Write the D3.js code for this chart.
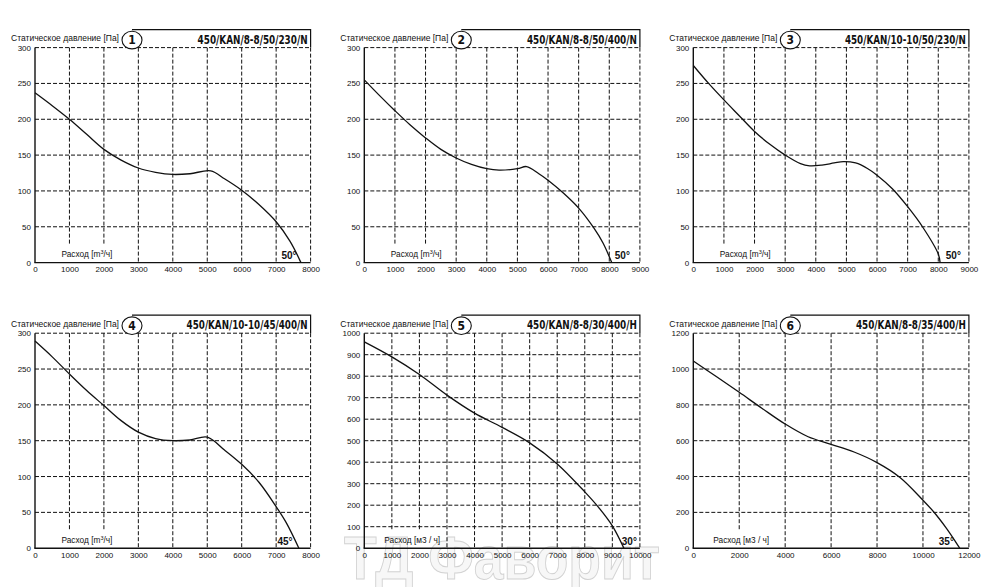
<!DOCTYPE html>
<html>
<head>
<meta charset="utf-8">
<script src="https://cdn.jsdelivr.net/npm/d3@7"></script>
<style>
  html,body{margin:0;padding:0;background:#fff;}
  svg{display:block;}
  text{font-family:'Liberation Sans',Arial,sans-serif;}
</style>
</head>
<body>
<svg id="chart" width="1001" height="587"></svg>
<script>
// ---------- data ----------
const panelNumbers = ['1','2','3','4','5','6'];
const titles = ['450/KAN/8-8/50/230/N','450/KAN/8-8/50/400/N','450/KAN/10-10/50/230/N',
                '450/KAN/10-10/45/400/N','450/KAN/8-8/30/400/H','450/KAN/8-8/35/400/H'];
const angleLabels = ['50°','50°','50°','45°','30°','35°'];
const yAxisLabel = 'Статическое давление [Па]';
const flowLabelsSup = [true,true,true,true,false,false];
const xMax = [8000,9000,9000,8000,10000,12000];
const yMax = [300,300,300,300,1000,1200];
const xStep = [1000,1000,1000,1000,1000,2000];
const yStep = [50,50,50,50,100,200];

const curve1 = [[0,237],[500,219],[1000,200],[1500,179],[2000,158],[2500,143],[3000,132],[3500,126],[4000,123],[4500,124],[5100,128],[5500,117],[6000,101],[6500,81],[7000,57],[7400,30],[7720,0]];
const curve2 = [[0,255],[500,233],[1000,212],[1500,192],[2000,174],[2500,158],[3000,146],[3500,137],[4000,131],[4400,129],[5000,131],[5300,134],[5700,124],[6000,115],[6500,97],[7000,76],[7500,48],[7800,27],[8080,0]];
const curve3 = [[0,275],[500,250],[1000,227],[1500,205],[2000,183],[2500,165],[3000,150],[3500,138],[3800,135],[4200,136],[4600,139],[4900,141],[5300,139],[5700,131],[6000,122],[6500,103],[7000,78],[7500,49],[8000,12],[8060,0]];
const curve4 = [[0,289],[500,267],[1000,243],[1500,220],[2000,199],[2500,178],[3000,162],[3500,153],[4000,150],[4500,151],[5000,155],[5500,137],[6000,117],[6500,92],[7000,58],[7300,35],[7660,0]];
const curve5 = [[0,960],[1000,890],[2000,808],[3000,712],[4000,628],[5000,562],[6000,490],[7000,392],[8000,262],[8500,190],[9000,104],[9420,0]];
const curve6 = [[0,1045],[1000,958],[2000,870],[3000,780],[4000,693],[5000,622],[6000,580],[7000,537],[8000,478],[9000,395],[10000,268],[10500,198],[11000,115],[11400,40],[11600,0]];
const curves = [curve1,curve2,curve3,curve4,curve5,curve6];

// ---------- layout ----------
const colLeft = [35, 364.3, 693.3];
const rowTop = [47.6, 333.2];
const plotW = 275.6, plotH = 215;
const angleOffset = [14,10,8,18,3,15];

const svg = d3.select('#chart');

// watermark (behind everything)
svg.append('text')
  .attr('x', 344).attr('y', 579)
  .attr('textLength', 316).attr('lengthAdjust','spacingAndGlyphs')
  .style('font-size','62px').style('font-weight','bold')
  .style('font-family',"'Liberation Sans',Arial,sans-serif")
  .attr('fill','#f7f7f7').attr('stroke','#d2d2d2').attr('stroke-width',1)
  .text('ТД Фаворит');

const ink = '#111';

panelNumbers.forEach((num, i) => {
  const left = colLeft[i % 3], top = rowTop[Math.floor(i / 3)];
  const right = left + plotW, bottom = top + plotH;
  const x = d3.scaleLinear().domain([0, xMax[i]]).range([left, right]);
  const y = d3.scaleLinear().domain([0, yMax[i]]).range([bottom, top]);
  const xt = d3.range(0, xMax[i] + 1, xStep[i]);
  const yt = d3.range(0, yMax[i] + 1, yStep[i]);
  const g = svg.append('g');

  // flow label (measure first)
  const flow = g.append('text')
    .attr('x', left + (flowLabelsSup[i] ? 26.5 : 20)).attr('y', bottom - 5.5)
    .style('font-size','8.3px').attr('fill', ink);
  if (flowLabelsSup[i]) {
    flow.append('tspan').text('Расход [m');
    flow.append('tspan').attr('dy', -3).style('font-size','5.5px').text('3');
    flow.append('tspan').attr('dy', 3).text('/ч]');
  } else {
    flow.text('Расход [м3 / ч]');
  }
  const fb = flow.node().getBBox();

  // grid horizontal
  g.append('g').selectAll('line').data(yt.filter(d => d > 0)).join('line')
    .attr('x1', left).attr('x2', right)
    .attr('y1', d => y(d)).attr('y2', d => y(d))
    .attr('stroke', ink).attr('stroke-width', 1).attr('stroke-dasharray','4,2');
  // grid vertical
  g.append('g').selectAll('line').data(xt.filter(d => d > 0)).join('line')
    .attr('x1', d => x(d)).attr('x2', d => x(d))
    .attr('y1', top)
    .attr('y2', d => (x(d) > fb.x - 3 && x(d) < fb.x + fb.width + 3) ? bottom - 19 : bottom)
    .attr('stroke', ink).attr('stroke-width', 1).attr('stroke-dasharray','4,2');

  // axes (solid)
  g.append('line').attr('x1', left).attr('x2', left).attr('y1', top).attr('y2', bottom)
    .attr('stroke', ink).attr('stroke-width', 1.4);
  g.append('line').attr('x1', left - 0.7).attr('x2', right).attr('y1', bottom).attr('y2', bottom)
    .attr('stroke', ink).attr('stroke-width', 1.4);

  // tick labels via d3 axes
  const ay = g.append('g').attr('transform', `translate(${left},0)`)
    .call(d3.axisLeft(y).tickValues(yt).tickSize(0).tickPadding(4).tickFormat(d3.format('d')));
  const ax = g.append('g').attr('transform', `translate(0,${bottom})`)
    .call(d3.axisBottom(x).tickValues(xt).tickSize(0).tickPadding(4).tickFormat(d3.format('d')));
  [ay, ax].forEach(a => {
    a.select('.domain').remove();
    a.selectAll('text').style('font-size','8px').style('font-family',"'Liberation Sans',Arial,sans-serif")
      .attr('fill', ink);
  });

  // curve
  const line = d3.line().x(d => x(d[0])).y(d => y(d[1])).curve(d3.curveCatmullRom.alpha(0.5));
  g.append('path').datum(curves[i]).attr('d', line)
    .attr('fill','none').attr('stroke', ink).attr('stroke-width', 1.3);

  // angle label
  g.append('text').attr('x', right - angleOffset[i]).attr('y', bottom - 3.5)
    .attr('text-anchor','end').style('font-size','10px').style('font-weight','bold')
    .attr('fill', ink).text(angleLabels[i]);

  // header box
  const cx = left + 97, cy = top - 7.5;
  g.append('path')
    .attr('d', `M${cx},${top - 18}H${right}V${top}`)
    .attr('fill','none').attr('stroke', ink).attr('stroke-width', 1.2);
  g.append('ellipse').attr('cx', cx).attr('cy', cy).attr('rx', 10).attr('ry', 8.8)
    .attr('fill','#fff').attr('stroke', ink).attr('stroke-width', 1.1);
  g.append('text').attr('x', cx).attr('y', cy + 4.3).attr('text-anchor','middle')
    .style('font-size','12px').style('font-weight','bold')
    .style('font-family',"'DejaVu Sans Condensed','Liberation Sans Narrow','DejaVu Sans',sans-serif")
    .attr('fill', ink).text(num);
  g.append('text').attr('x', cx - 13).attr('y', top - 6.5).attr('text-anchor','end')
    .style('font-size','8.5px').attr('fill', ink).text(yAxisLabel);
  g.append('text').attr('x', right - 3).attr('y', top - 4)
    .attr('text-anchor','end')
    .attr('textLength', titles[i].length * 5.5).attr('lengthAdjust','spacingAndGlyphs')
    .style('font-size','11.5px').style('font-weight','bold')
    .style('font-family',"'DejaVu Sans Condensed','Liberation Sans Narrow','DejaVu Sans',sans-serif")
    .attr('fill', ink).text(titles[i]);
});
</script>
</body>
</html>
